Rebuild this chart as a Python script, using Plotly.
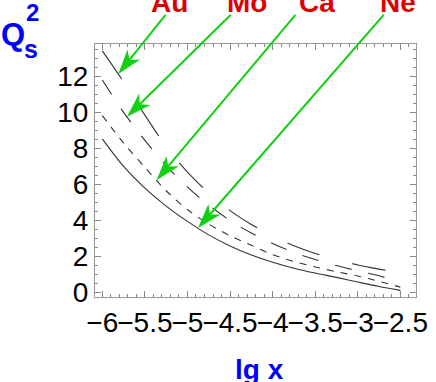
import plotly.graph_objects as go
import numpy as np

lgx = [-6.0, -5.75, -5.5, -5.25, -5.0, -4.75, -4.5, -4.25, -4.0, -3.75, -3.5, -3.25, -3.0, -2.75, -2.5]
q_au = [13.42, 11.7, 9.85, 8.1, 6.68, 5.52, 4.55, 3.78, 3.12, 2.6, 2.17, 1.83, 1.53, 1.30, 1.10]
q_mo = [11.8, 10.0, 8.45, 7.05, 5.85, 4.85, 4.0, 3.3, 2.72, 2.22, 1.83, 1.5, 1.2, 0.93, 0.55]
q_ca = [9.82, 8.3, 6.95, 5.65, 4.6, 3.8, 3.15, 2.62, 2.1, 1.72, 1.42, 1.15, 0.92, 0.62, 0.3]
q_ne = [8.53, 7.0, 5.8, 4.8, 3.95, 3.2, 2.58, 2.08, 1.68, 1.35, 1.08, 0.84, 0.58, 0.33, 0.12]

labels = ["Au", "Mo", "Ca", "Ne"]
series = [q_au, q_mo, q_ca, q_ne]
dashes = ["34px,34px", "17px,17px", "7px,7px", "solid"]
arrow_x = [-5.813, -5.711, -5.363, -4.876]       # where each arrow touches its curve
label_px = [169, 247, 317, 398]                   # label centres (pixels)
tail_px = [166.7, 232.3, 296.7, 385.0]            # arrow tails (pixels)

xticks = [-6, -5.5, -5, -4.5, -4, -3.5, -3, -2.5]
xtick_text = ["\u22126", "\u22125.5", "\u22125", "\u22124.5", "\u22124", "\u22123.5", "\u22123", "\u22122.5"]
yticks = [0, 2, 4, 6, 8, 10, 12]

W, H = 436, 382
L, R, T, B = 95, 20, 44, 85
XR = [-6.086, -2.316]
YR = [-0.25, 13.8]
FONT = "Liberation Sans, Arial, sans-serif"

fig = go.Figure()
for name, q, d in zip(labels, series, dashes):
    fig.add_trace(go.Scatter(x=lgx, y=q, mode="lines", name=name,
                             line=dict(color="#333333", width=1.1, dash=d, shape="spline", smoothing=0.8),
                             showlegend=False))

pw = W - L - R
ph = H - T - B

def data_to_px(x, y):
    return (L + (x - XR[0]) / (XR[1] - XR[0]) * pw,
            H - B - (y - YR[0]) / (YR[1] - YR[0]) * ph)

def px_to_data(px, py):
    return (XR[0] + (px - L) / pw * (XR[1] - XR[0]),
            YR[0] + (H - B - py) / ph * (YR[1] - YR[0]))

def px_paper(px, py):
    return (px - L) / pw, (H - B - py) / ph

green = "#10d010"
HEAD_LEN, HEAD_HALF, NOTCH = 25.0, 8.0, 7.0
for name, q, ax_, lp, tp in zip(labels, series, arrow_x, label_px, tail_px):
    ay_ = float(np.interp(ax_, lgx, q))
    tx, ty = data_to_px(ax_, ay_)
    sx, sy = tp, 13.3
    d = np.array([tx - sx, ty - sy])
    u = d / np.linalg.norm(d)
    n = np.array([-u[1], u[0]])
    tip = np.array([tx, ty])
    p1 = tip - HEAD_LEN * u + HEAD_HALF * n
    p2 = tip - (HEAD_LEN - NOTCH) * u
    p3 = tip - HEAD_LEN * u - HEAD_HALF * n
    pts = [px_to_data(*p) for p in (tip, p1, p2, p3)]
    path = "M %f,%f L %f,%f L %f,%f L %f,%f Z" % tuple(v for p in pts for v in p)
    fig.add_shape(type="path", path=path, xref="x", yref="y", fillcolor=green,
                  line=dict(width=0), layer="above")
    nx_, ny_ = px_to_data(*p2)
    fig.add_annotation(x=nx_, y=ny_, xref="x", yref="y", text="", showarrow=True,
                       ax=sx - p2[0], ay=sy - p2[1], axref="pixel", ayref="pixel",
                       arrowhead=0, arrowwidth=2, arrowcolor=green, standoff=0)
    px, py = px_paper(lp, 2)
    fig.add_annotation(x=px, y=py, xref="paper", yref="paper",
                       text="<b>%s</b>" % name, showarrow=False, xanchor="center", yanchor="middle",
                       font=dict(family=FONT, size=28, color="#dd0000"))

blue = "#0000ff"
for txt, cx, cy, sz in [("Q", 13, 34, 31), ("s", 31, 49, 25), ("2", 32, 12, 24), ("lg x", 259, 369, 28)]:
    px, py = px_paper(cx, cy)
    fig.add_annotation(x=px, y=py, xref="paper", yref="paper", text="<b>%s</b>" % txt,
                       showarrow=False, xanchor="center", yanchor="middle",
                       font=dict(family=FONT, size=sz, color=blue))

axis_common = dict(showgrid=False, zeroline=False, showline=True, linecolor="#999999", linewidth=1,
                   mirror="ticks", ticks="inside", ticklen=6, tickcolor="#888888", tickwidth=1,
                   tickfont=dict(family=FONT, size=28, color="black"))
fig.update_xaxes(range=XR, tickvals=xticks, ticktext=xtick_text, tickangle=0,
                 minor=dict(dtick=0.1, ticklen=3, ticks="inside", tickcolor="#888888"), **axis_common)
fig.update_yaxes(range=YR, tickvals=yticks,
                 minor=dict(dtick=0.5, ticklen=3, ticks="inside", tickcolor="#888888"), **axis_common)

fig.update_layout(width=W, height=H, margin=dict(l=L, r=R, t=T, b=B, autoexpand=False),
                  paper_bgcolor="white", plot_bgcolor="white")
fig.write_html("out.html", config={"displayModeBar": False},
               post_script="document.body.style.margin='0';document.body.style.padding='0';")
